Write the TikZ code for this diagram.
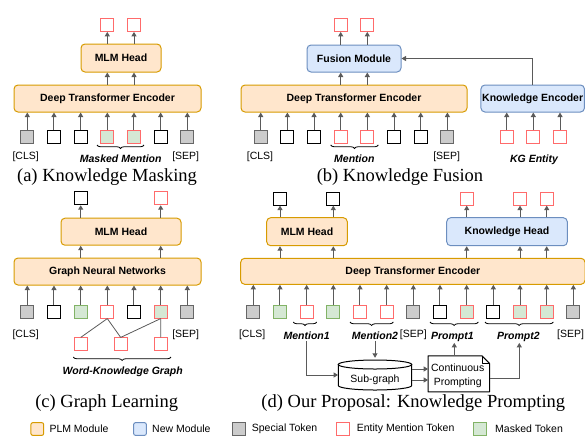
\documentclass[tikz,border=0pt]{standalone}
\usepackage{fontspec}
\setmainfont{Liberation Serif}
\setsansfont{Liberation Sans}
\usetikzlibrary{arrows.meta,decorations.pathreplacing}
\definecolor{plmf}{HTML}{FFE6CC}
\definecolor{plmd}{HTML}{D79B00}
\definecolor{newf}{HTML}{DAE8FC}
\definecolor{newd}{HTML}{6C8EBF}
\definecolor{specf}{HTML}{CCCCCC}
\definecolor{specd}{HTML}{666666}
\definecolor{entd}{HTML}{FF6B6B}
\definecolor{maskf}{HTML}{D5E8D4}
\definecolor{maskd}{HTML}{82B366}
\definecolor{arrc}{HTML}{5A5A5A}
\begin{document}
\begin{tikzpicture}[x=1pt,y=-1pt,
  tok/.style={draw, minimum size=12.8pt, inner sep=0pt, line width=1pt},
  spec/.style={tok, draw=specd, fill=specf},
  plain/.style={tok, draw=black, fill=white},
  ent/.style={tok, draw=entd, fill=white},
  mask/.style={tok, draw=maskd, fill=maskf},
  entmask/.style={tok, draw=entd, fill=maskf},
  boxfont/.style={font=\sffamily\bfseries\fontsize{10.5}{12}\selectfont},
  plm/.style={draw=plmd, fill=plmf, rounded corners=4pt, line width=1pt, inner sep=0pt, boxfont},
  newm/.style={draw=newd, fill=newf, rounded corners=4pt, line width=1pt, inner sep=0pt, boxfont},
  arr/.style={draw=arrc, line width=1pt, -{Triangle[width=5pt,length=4.5pt]}},
  lbl/.style={font=\sffamily\fontsize{10.5}{12}\selectfont, inner sep=1pt},
  blbl/.style={font=\sffamily\bfseries\itshape\fontsize{10.5}{12}\selectfont, inner sep=1pt},
  captxt/.style={font=\rmfamily\fontsize{18.5}{20}\selectfont, inner sep=0pt},
  brc/.style={draw=black, line width=0.8pt, decorate, decoration={brace, mirror, amplitude=3.5pt}},
  gedge/.style={draw=arrc, line width=0.8pt},
  shp/.style={draw=black, fill=white, line width=1pt}
]
\useasboundingbox (0,0) rectangle (585,437);

% ================= (a) Knowledge Masking =================
\node[plm, minimum width=187pt, minimum height=27pt] (aenc) at (107.5,98.5) {Deep Transformer Encoder};
\node[plm, minimum width=80pt, minimum height=28pt] (amlm) at (121,58) {MLM Head};
\foreach \s [count=\i] in {spec,plain,plain,entmask,entmask,plain,spec}
  \node[\s] (a\i) at ({27.3+26.67*(\i-1)},137) {};
\foreach \i in {1,...,7}
  \draw[arr] (a\i.north) -- (a\i.north |- aenc.south);
\node[ent] (ao1) at (107.3,25) {};
\node[ent] (ao2) at (134,25) {};
\foreach \o in {ao1,ao2}{
  \draw[arr] (amlm.north -| \o) -- (\o.south);
  \draw[arr] (aenc.north -| \o) -- (amlm.south -| \o);
}
\draw[brc] (97,145) -- (144,145);
\node[lbl, anchor=base] (acls) at (25.7,159.5) {[CLS]};
\node[blbl, anchor=base] (amm) at (120.7,162.5) {Masked Mention};
\node[lbl, anchor=base] (asep) at (185.7,159.5) {[SEP]};
\node[captxt] (acap) at (107,177.3) {(a) Knowledge Masking};

% ================= (b) Knowledge Fusion =================
\node[plm, minimum width=226pt, minimum height=27pt] (benc) at (354,98.5) {Deep Transformer Encoder};
\node[newm, minimum width=94pt, minimum height=27pt] (fus) at (354,58.5) {Fusion Module};
\node[newm, minimum width=103.5pt, minimum height=27pt] (ke) at (532.7,98.5) {Knowledge Encoder};
\foreach \s [count=\i] in {spec,plain,plain,ent,ent,plain,plain,spec}
  \node[\s] (b\i) at ({260.7+26.67*(\i-1)},137) {};
\foreach \i in {1,...,8}
  \draw[arr] (b\i.north) -- (b\i.north |- benc.south);
\foreach \x [count=\i] in {506.7,533.3,560}{
  \node[ent] (k\i) at (\x,137) {};
  \draw[arr] (k\i.north) -- (k\i.north |- ke.south);
}
\node[ent] (bo1) at (340.7,25) {};
\node[ent] (bo2) at (367.3,25) {};
\foreach \o in {bo1,bo2}{
  \draw[arr] (fus.north -| \o) -- (\o.south);
  \draw[arr] (benc.north -| \o) -- (fus.south -| \o);
}
\draw[arr] (ke.north) |- (fus.east);
\draw[brc] (330.7,145) -- (378.3,145);
\node[lbl, anchor=base] (bcls) at (260,159.5) {[CLS]};
\node[blbl, anchor=base] (bmen) at (354.3,162.5) {Mention};
\node[lbl, anchor=base] (bsep) at (446.7,159.5) {[SEP]};
\node[blbl, anchor=base] (bkg) at (534,162.5) {KG Entity};
\node[captxt] (bcap) at (400,177.3) {(b) Knowledge Fusion};

% ================= (c) Graph Learning =================
\node[plm, minimum width=187pt, minimum height=27pt] (cgnn) at (107.5,271.5) {Graph Neural Networks};
\node[plm, minimum width=120pt, minimum height=27pt] (cmlm) at (121,231.7) {MLM Head};
\foreach \s [count=\i] in {spec,plain,mask,ent,plain,entmask,spec}
  \node[\s] (c\i) at ({27.3+26.67*(\i-1)},311.7) {};
\foreach \i in {1,...,7}
  \draw[arr] (c\i.north) -- (c\i.north |- cgnn.south);
\node[plain] (co1) at (80.7,198.3) {};
\node[ent] (co2) at (160.7,198.3) {};
\foreach \o in {co1,co2}{
  \draw[arr] (cmlm.north -| \o) -- (\o.south);
  \draw[arr] (cgnn.north -| \o) -- (cmlm.south -| \o);
}
\node[ent] (g1) at (80.7,344.3) {};
\node[ent] (g2) at (120.7,344.3) {};
\node[ent] (g3) at (160.7,344.3) {};
\draw[gedge] (c4.south) -- (g1.north);
\draw[gedge] (c4.south) -- (g2.north);
\draw[gedge] (c6.south) -- (g2.north);
\draw[gedge] (c6.south) -- (g3.north);
\draw[brc] (73.3,357) -- (171,357);
\node[lbl, anchor=base] (ccls) at (25.7,337) {[CLS]};
\node[lbl, anchor=base] (csep) at (185.7,337) {[SEP]};
\node[blbl, anchor=base] (cwkg) at (122.7,374.5) {Word-Knowledge Graph};
\node[captxt] (ccap) at (106.7,403.3) {(c) Graph Learning};

% ================= (d) Knowledge Prompting =================
\node[plm, minimum width=344.3pt, minimum height=26pt] (denc) at (412.85,271.3) {Deep Transformer Encoder};
\node[plm, minimum width=80.6pt, minimum height=28pt] (dmlm) at (307,231.7) {MLM Head};
\node[newm, minimum width=120.6pt, minimum height=28pt] (dkh) at (507,231.7) {Knowledge Head};
\foreach \s [count=\i] in {spec,mask,ent,mask,ent,ent,spec,plain,entmask,plain,entmask,entmask,spec}
  \node[\s] (d\i) at ({253.3+26.67*(\i-1)},311.7) {};
\foreach \i in {1,...,13}
  \draw[arr] (d\i.north) -- (d\i.north |- denc.south);
\node[plain] (do1) at (280,198.7) {};
\node[plain] (do2) at (333.3,198.7) {};
\node[ent] (do3) at (466.7,198.7) {};
\node[ent] (do4) at (520,198.7) {};
\node[ent] (do5) at (546.7,198.7) {};
\foreach \o in {do1,do2}{
  \draw[arr] (dmlm.north -| \o) -- (\o.south);
  \draw[arr] (denc.north -| \o) -- (dmlm.south -| \o);
}
\foreach \o in {do3,do4,do5}{
  \draw[arr] (dkh.north -| \o) -- (\o.south);
  \draw[arr] (denc.north -| \o) -- (dkh.south -| \o);
}
\draw[brc] (293.3,322) -- (316.7,322);
\draw[brc] (350,322) -- (393.3,322);
\draw[brc] (430,322) -- (478.3,322);
\draw[brc] (485,322) -- (553.3,322);
\node[lbl, anchor=base] (dcls) at (252.2,337.8) {[CLS]};
\node[blbl, anchor=base] (m1) at (306.7,339.5) {Mention1};
\node[blbl, anchor=base] (m2) at (375,339.5) {Mention2};
\node[lbl, anchor=base] (dsep1) at (413.3,337.8) {[SEP]};
\node[blbl, anchor=base] (p1) at (452.3,339.5) {Prompt1};
\node[blbl, anchor=base] (p2) at (518.3,339.5) {Prompt2};
\node[lbl, anchor=base] (dsep2) at (570.5,337.8) {[SEP]};
% sub-graph cylinder
\path[shp] (338.3,364.5) -- (338.3,385.5) arc[start angle=180, end angle=360, x radius=36.7pt, y radius=4.5pt] -- (411.7,364.5) -- cycle;
\draw[shp] (375,364.5) ellipse[x radius=36.7pt, y radius=4.5pt];
\node[minimum width=73.4pt, minimum height=30pt, inner sep=0pt] (sg) at (375,375) {};
\node[lbl] (sgt) at (375,379.3) {Sub-graph};
% continuous prompting document
\node[minimum width=61pt, minimum height=35.7pt, inner sep=0pt] (doc) at (458.8,373.85) {};
\draw[shp, line join=round] (doc.north west) -- ([xshift=-7.5pt]doc.north east) -- ([yshift=-7.5pt]doc.north east) -- (doc.south east) -- (doc.south west) -- cycle;
\draw[draw=black, line width=1pt, line join=round] ([xshift=-7.5pt]doc.north east) -- ([xshift=-7.5pt,yshift=-7.5pt]doc.north east) -- ([yshift=-7.5pt]doc.north east);
\node[lbl, align=center, font=\sffamily\fontsize{10.5}{13.3}\selectfont] (doct) at (457.7,375.7) {Continuous\\Prompting};
% connectors
\draw[arr] (m1.south) |- (sg.west);
\draw[arr] (m2.south) -- ([yshift=2pt]sg.north);
\draw[arr] ([yshift=6pt]sg.east) -- ([yshift=6pt]sg.east -| doc.west);
\draw[arr] ([yshift=-5pt]sg.east) -- ([yshift=-5pt]sg.east -| doc.west);
\draw[arr] ([xshift=2pt]p1.south |- doc.north) -- ([xshift=2pt]p1.south);
\draw[arr] ([yshift=-5pt]doc.east) -| ([xshift=1pt]p2.south);
\node[captxt] (dcap) at (413.3,403.3) {(d) Our Proposal: Knowledge Prompting};

% ================= legend =================
\node[draw=plmd, fill=plmf, rounded corners=2pt, line width=1pt, minimum size=12.8pt, inner sep=0pt] (l1) at (37.3,429) {};
\node[lbl, anchor=west] (l1t) at (48.3,429) {PLM Module};
\node[draw=newd, fill=newf, rounded corners=2pt, line width=1pt, minimum size=12.8pt, inner sep=0pt] (l2) at (140,429) {};
\node[lbl, anchor=west] (l2t) at (151,429) {New Module};
\node[spec] (l3) at (238.7,429) {};
\node[lbl, anchor=west] (l3t) at (250.7,429) {Special Token};
\node[ent] (l4) at (343,429) {};
\node[lbl, anchor=west] (l4t) at (355.7,429) {Entity Mention Token};
\node[mask] (l5) at (479.7,429) {};
\node[lbl, anchor=west] (l5t) at (494,429) {Masked Token};
\end{tikzpicture}
\end{document}
